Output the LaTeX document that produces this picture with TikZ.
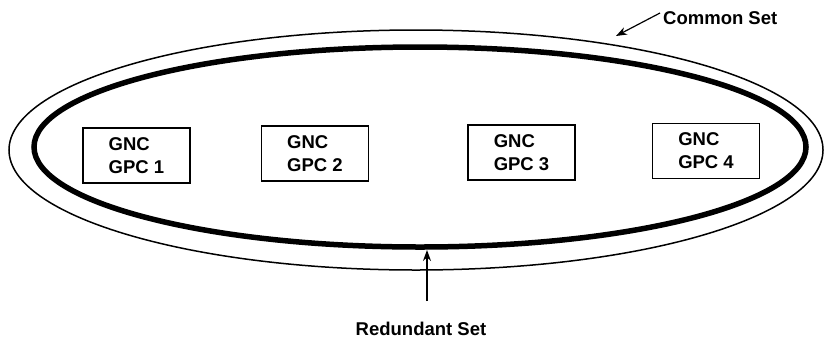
\documentclass[tikz,border=0pt]{standalone}
\usepackage{fontspec}
\setmainfont{Liberation Sans}
\usetikzlibrary{shapes.geometric,arrows.meta}
\begin{document}
\begin{tikzpicture}[x=1pt,y=-1pt,
  lbl/.style={font=\fontsize{18.5}{23}\selectfont\bfseries, inner sep=0pt},
  gpcbox/.style={draw, line width=1.6pt, minimum width=107pt, minimum height=55pt,
    inner sep=0pt, align=left, font=\fontsize{18.5}{23}\selectfont\bfseries},
  ptr/.style={line width=1.2pt, -{Stealth[length=11pt,width=8pt]}}]
\useasboundingbox (0,0) rectangle (826,338);
\node[draw, ellipse, line width=1.5pt, minimum width=814pt, minimum height=240pt, inner sep=0pt] (common) at (416,150) {};
\node[draw, ellipse, line width=5.5pt, minimum width=772pt, minimum height=200pt, inner sep=0pt] (redundant) at (420,147) {};
\node[gpcbox] (g1) at (136.5,155.5) {GNC\\GPC 1};
\node[gpcbox] (g2) at (315,153.5) {GNC\\GPC 2};
\node[gpcbox] (g3) at (521.5,152.5) {GNC\\GPC 3};
\node[gpcbox] (g4) at (706,151) {GNC\\GPC 4};
\node[lbl, anchor=base west] (cs) at (663,24) {Common Set};
\node[lbl, anchor=base] (rs) at (421,335) {Redundant Set};
\coordinate (cstail) at (660,13);
\coordinate (cstip) at (616,36);
\coordinate (rstail) at (427,301);
\coordinate (rstip) at (427,250);
\draw[ptr] (cstail) -- (cstip);
\draw[ptr] (rstail) -- (rstip);
\end{tikzpicture}
\end{document}
